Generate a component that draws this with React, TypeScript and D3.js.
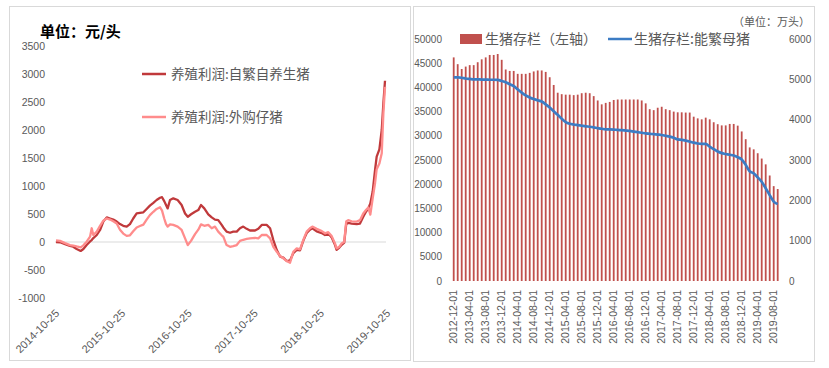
import React from "react";
import * as d3 from "d3";

// ---------- Left chart data (元/头) ----------
const profitDates = [
  "2014-10-25","2014-11-16","2014-12-14","2015-01-10","2015-01-28","2015-02-16","2015-03-10","2015-03-25",
  "2015-04-12","2015-05-01","2015-05-10","2015-05-19","2015-06-07","2015-06-25","2015-07-13","2015-08-01",
  "2015-08-19","2015-09-06","2015-09-25","2015-10-13","2015-10-31","2015-11-19","2015-12-07","2015-12-25",
  "2016-01-13","2016-01-31","2016-02-19","2016-03-08","2016-03-26","2016-04-14","2016-05-02","2016-05-21",
  "2016-06-01","2016-06-13","2016-06-23","2016-07-02","2016-07-15","2016-08-02","2016-08-26","2016-09-17",
  "2016-10-06","2016-10-21","2016-11-08","2016-11-30","2016-12-18","2017-01-02","2017-01-20","2017-02-11",
  "2017-03-02","2017-03-20","2017-04-07","2017-04-26","2017-05-05","2017-05-23","2017-06-11","2017-06-29",
  "2017-07-18","2017-08-05","2017-08-23","2017-09-11","2017-09-29","2017-10-27","2017-11-14","2017-12-03",
  "2017-12-30","2018-01-18","2018-02-05","2018-02-24","2018-03-14","2018-04-01","2018-04-20","2018-05-08",
  "2018-05-26","2018-06-14","2018-07-02","2018-07-20","2018-08-08","2018-08-26","2018-09-08","2018-10-02",
  "2018-10-30","2018-11-17","2018-12-05","2018-12-24","2019-01-11","2019-01-20","2019-02-04","2019-02-17",
  "2019-03-03","2019-03-14","2019-03-25","2019-04-13","2019-05-11","2019-05-29","2019-06-16","2019-07-01",
  "2019-07-14","2019-07-25","2019-08-07","2019-08-20","2019-08-29","2019-09-13","2019-09-26","2019-10-05",
  "2019-10-14"
];
const profitSelfBred = [
  0,-5,-40,-70,-85,-125,-160,-125,
  -55,10,35,70,125,215,365,440,
  420,400,365,320,290,275,320,420,
  510,520,530,590,650,700,750,790,
  800,730,660,600,750,780,750,660,
  510,450,495,540,570,660,600,495,
  440,400,390,305,260,185,165,185,
  185,245,275,235,205,205,235,305,
  305,245,35,-145,-260,-280,-340,-330,
  -200,-140,-150,20,160,220,245,190,
  160,125,150,80,-50,-140,-100,-50,
  -10,320,340,330,320,330,450,540,
  600,690,900,1285,1525,1655,2000,2475,
  2880
];
const profitPurchased = [
  30,20,-20,-55,-65,-80,-95,-60,
  5,95,245,125,185,290,380,420,
  400,370,330,220,150,110,120,190,
  260,285,310,400,480,540,590,620,
  560,420,320,275,315,305,275,215,
  65,-55,20,140,220,315,290,305,
  245,275,185,120,95,-55,-85,-75,
  -55,20,40,55,65,75,65,125,
  125,65,-85,-175,-250,-290,-340,-370,
  -175,-115,-130,35,185,245,275,235,
  195,155,175,105,-25,-115,-85,-25,
  5,365,390,370,365,390,510,570,
  615,490,780,1050,1300,1400,1585,2300,
  2770
];
const profitTicks = ["2014-10-25","2015-10-25","2016-10-25","2017-10-25","2018-10-25","2019-10-25"];
const profitYTicks = [-1000,-500,0,500,1000,1500,2000,2500,3000,3500];

// ---------- Right chart data (万头) ----------
const stockMonths = [
  "2012-12","2013-01","2013-02","2013-03","2013-04","2013-05","2013-06","2013-07","2013-08","2013-09","2013-10","2013-11",
  "2013-12","2014-01","2014-02","2014-03","2014-04","2014-05","2014-06","2014-07","2014-08","2014-09","2014-10","2014-11",
  "2014-12","2015-01","2015-02","2015-03","2015-04","2015-05","2015-06","2015-07","2015-08","2015-09","2015-10","2015-11",
  "2015-12","2016-01","2016-02","2016-03","2016-04","2016-05","2016-06","2016-07","2016-08","2016-09","2016-10","2016-11",
  "2016-12","2017-01","2017-02","2017-03","2017-04","2017-05","2017-06","2017-07","2017-08","2017-09","2017-10","2017-11",
  "2017-12","2018-01","2018-02","2018-03","2018-04","2018-05","2018-06","2018-07","2018-08","2018-09","2018-10","2018-11",
  "2018-12","2019-01","2019-02","2019-03","2019-04","2019-05","2019-06","2019-07","2019-08","2019-09"
];
const hogStock = [
  46200,44800,43800,44300,44600,44600,45200,45800,46200,46700,46700,46900,
  45700,43700,43400,43400,42800,42800,42800,43000,43300,43500,43500,43200,
  42100,40500,38900,38600,38500,38500,38400,38500,38800,38900,38800,38200,
  37300,36500,36800,37000,37400,37500,37500,37500,37500,37500,37500,37300,
  36700,35500,35300,35800,36000,35500,35300,35000,34850,34850,34800,34800,
  33950,33600,33400,33750,33400,32800,32400,32150,32150,32450,32450,32100,
  30900,29300,27600,27200,26400,25300,24100,21800,19600,19000
];
const sowStock = [
  5050,5050,5040,5020,5010,5000,5000,4995,4995,4990,4990,4985,
  4960,4930,4880,4830,4750,4670,4600,4550,4510,4480,4450,4380,
  4300,4210,4120,4020,3940,3900,3880,3865,3850,3835,3825,3810,
  3790,3775,3760,3760,3755,3745,3740,3730,3720,3705,3690,3675,
  3660,3650,3640,3630,3620,3600,3580,3550,3510,3500,3480,3455,
  3430,3410,3400,3400,3330,3270,3210,3170,3150,3130,3110,3070,
  3010,2880,2720,2670,2570,2460,2300,2130,1970,1910
];
const stockLeftTicks = [0,5000,10000,15000,20000,25000,30000,35000,40000,45000,50000];
const stockRightTicks = [0,1000,2000,3000,4000,5000,6000];

const NUM_FONT = "'Liberation Sans', Arial, sans-serif";
const CJK_FONT = "'Noto Sans CJK SC', 'Noto Sans', sans-serif";
const TEXT_GREY = "#595959";

function LeftChart() {
  const parse = d3.timeParse("%Y-%m-%d");
  const x = d3.scaleTime().domain([parse("2014-10-25")!, parse("2019-10-25")!]).range([56, 387]);
  const y = d3.scaleLinear().domain([-1000, 3500]).range([298, 46]);
  const pts = profitDates.map((d, i) => ({ d: parse(d)!, a: profitSelfBred[i], b: profitPurchased[i] }));
  const lineA = d3.line<any>().x(p => x(p.d)).y(p => y(p.a));
  const lineB = d3.line<any>().x(p => x(p.d)).y(p => y(p.b));
  return (
    <g>
      <rect x={9.5} y={6.5} width={401} height={354} fill="#fff" stroke="#d9d9d9" />
      <text x={40} y={37} fontFamily={CJK_FONT} fontWeight="bold" fontSize={15} fill="#000">单位：元/头</text>
      {profitYTicks.map(t => (
        <text key={t} x={45} y={y(t)} dy="0.35em" textAnchor="end" fontFamily={NUM_FONT} fontSize={10.5} fill={TEXT_GREY}>{t}</text>
      ))}
      <line x1={55} x2={386} y1={y(0)} y2={y(0)} stroke="#d9d9d9" strokeWidth={1.2} />
      <path d={lineA(pts)!} fill="none" stroke="#C0393B" strokeWidth={2.3} strokeLinejoin="round" />
      <path d={lineB(pts)!} fill="none" stroke="#FF8C8C" strokeWidth={2.3} strokeLinejoin="round" />
      {profitTicks.map(t => {
        const tx = x(parse(t)!);
        return (
          <text key={t} transform={`translate(${tx + 4},${314}) rotate(-45)`} textAnchor="end" fontFamily={NUM_FONT} fontSize={11} fill={TEXT_GREY}>{t}</text>
        );
      })}
      <line x1={142} x2={166} y1={74} y2={74} stroke="#C0393B" strokeWidth={2.5} />
      <text x={171} y={74} dy="0.35em" fontFamily={CJK_FONT} fontSize={13.5} fill={TEXT_GREY}>养殖利润:自繁自养生猪</text>
      <line x1={142} x2={166} y1={117} y2={117} stroke="#FF8C8C" strokeWidth={2.5} />
      <text x={171} y={117} dy="0.35em" fontFamily={CJK_FONT} fontSize={13.5} fill={TEXT_GREY}>养殖利润:外购仔猪</text>
    </g>
  );
}

function RightChart() {
  const xb = d3.scaleBand<string>().domain(stockMonths).range([451.7, 779.7]).paddingInner(0.55).paddingOuter(0.275);
  const yL = d3.scaleLinear().domain([0, 50000]).range([281, 39]);
  const yR = d3.scaleLinear().domain([0, 6000]).range([281, 39]);
  const bw = xb.bandwidth();
  const cx = (m: string) => (xb(m) as number) + bw / 2;
  const line = d3.line<number>().x((_, i) => cx(stockMonths[i])).y(v => yR(v)).curve(d3.curveMonotoneX);
  const labelMonths = stockMonths.filter((_, i) => i % 4 === 0);
  return (
    <g>
      <rect x={413.5} y={6.5} width={401} height={355} fill="#fff" stroke="#d9d9d9" />
      <text x={810} y={22} dy="0.35em" textAnchor="end" fontFamily={CJK_FONT} fontSize={11} fill={TEXT_GREY}>（单位：万头）</text>
      {stockLeftTicks.map(t => (
        <text key={t} x={442} y={yL(t)} dy="0.35em" textAnchor="end" fontFamily={NUM_FONT} fontSize={10} fill={TEXT_GREY}>{t}</text>
      ))}
      {stockRightTicks.map(t => (
        <text key={t} x={789} y={yR(t)} dy="0.35em" textAnchor="start" fontFamily={NUM_FONT} fontSize={10} fill={TEXT_GREY}>{t}</text>
      ))}
      {stockMonths.map((m, i) => (
        <rect key={m} x={xb(m)} y={yL(hogStock[i])} width={bw} height={yL(0) - yL(hogStock[i])} fill="#C0504D" />
      ))}
      <path d={line(sowStock)!} fill="none" stroke="#3C7CC4" strokeWidth={2.7} strokeLinejoin="round" />
      {labelMonths.map(m => (
        <text key={m} transform={`translate(${cx(m)},${290}) rotate(-90)`} dy="0.35em" textAnchor="end" fontFamily={NUM_FONT} fontSize={10.5} fill={TEXT_GREY}>{m + "-01"}</text>
      ))}
      <rect x={460} y={34} width={22} height={10} fill="#C0504D" />
      <text x={485} y={39} dy="0.35em" fontFamily={CJK_FONT} fontSize={14} fill={TEXT_GREY}>生猪存栏（左轴）</text>
      <line x1={608} x2={632} y1={39} y2={39} stroke="#3C7CC4" strokeWidth={2.5} />
      <text x={634} y={39} dy="0.35em" fontFamily={CJK_FONT} fontSize={14} fill={TEXT_GREY}>生猪存栏:能繁母猪</text>
    </g>
  );
}

export default function App() {
  return (
    <svg width={829} height={368} style={{ position: "absolute", left: 0, top: 0, background: "#fff" }}>
      <rect x={0} y={0} width={829} height={368} fill="#fff" />
      <LeftChart />
      <RightChart />
    </svg>
  );
}
